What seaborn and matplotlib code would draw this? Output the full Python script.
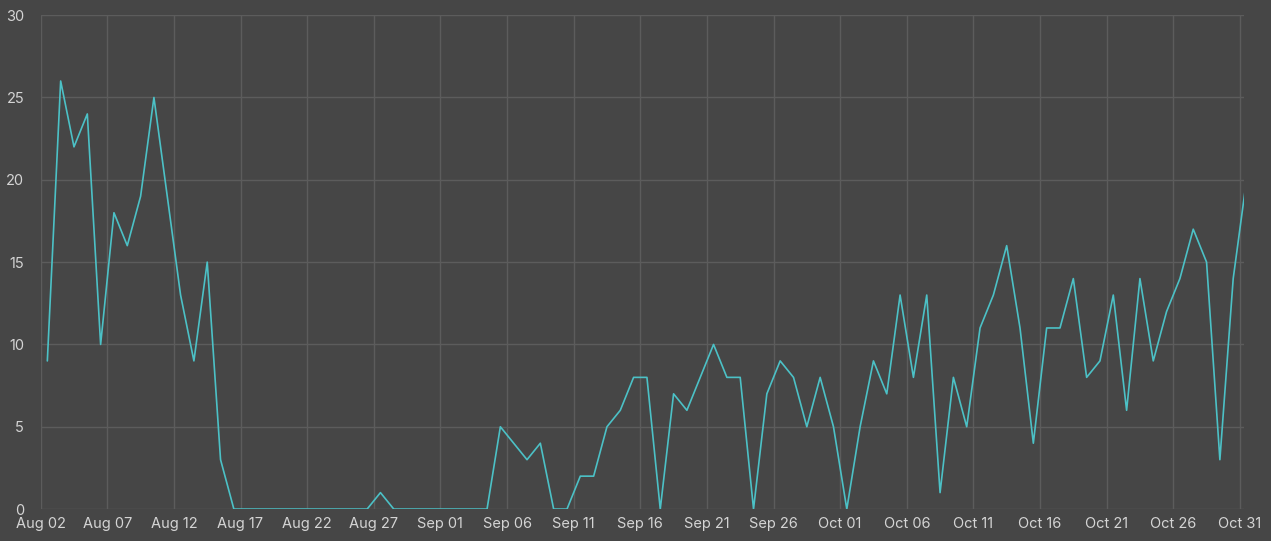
import pandas as pd
import numpy as np
import matplotlib
matplotlib.use("Agg")
import matplotlib.pyplot as plt
import matplotlib.dates as mdates
import seaborn as sns

# daily counts, Aug 02 -> Oct 31
start_date = "2023-08-02"
end_date = "2023-10-31"
counts = [
    9, 26, 22, 24, 10, 18, 16, 19, 25, 19,      # Aug 02 - Aug 11
    13, 9, 15, 3, 0, 0, 0, 0, 0, 0,              # Aug 12 - Aug 21
    0, 0, 0, 0, 0, 1, 0, 0, 0, 0,                # Aug 22 - Aug 31
    0, 0, 0, 0, 5, 4, 3, 4, 0, 0,                # Sep 01 - Sep 10
    2, 2, 5, 6, 8, 8, 0, 7, 6, 8,                # Sep 11 - Sep 20
    10, 8, 8, 0, 7, 9, 8, 5, 8, 5,               # Sep 21 - Sep 30
    0, 5, 9, 7, 13, 8, 13, 1, 8, 5,              # Oct 01 - Oct 10
    11, 13, 16, 11, 4, 11, 11, 14, 8, 9,         # Oct 11 - Oct 20
    13, 6, 14, 9, 12, 14, 17, 15, 3, 14,         # Oct 21 - Oct 30
    20,                                           # Oct 31
]
tick_step_days = 5

dates = pd.date_range(start_date, periods=len(counts), freq="D") + pd.Timedelta(hours=12)
df = pd.DataFrame({"date": dates, "count": counts})

bg = "#464646"
grid_c = "#5c5c5c"
text_c = "#d4d4d4"
line_c = "#4cc1c6"

sns.set_theme(style="darkgrid")
plt.rcParams["font.family"] = ["Inter", "DejaVu Sans"]

fig, ax = plt.subplots(figsize=(12.71, 5.41), dpi=100)
fig.patch.set_facecolor(bg)
ax.set_facecolor(bg)
fig.subplots_adjust(left=0.032, right=0.979, top=0.972, bottom=0.059)

sns.lineplot(data=df, x="date", y="count", ax=ax, color=line_c, linewidth=1.2)

ticks = pd.date_range(start_date, end_date, freq=f"{tick_step_days}D")
ax.set_xticks(ticks)
ax.xaxis.set_major_formatter(mdates.DateFormatter("%b %d"))
ax.set_yticks(np.arange(0, 31, 5))
x0 = pd.Timestamp(start_date)
x1 = pd.Timestamp(end_date) + pd.Timedelta(hours=8)
ax.set_xlim(x0, x1)
ax.set_ylim(0, 30)

ax.grid(True, color=grid_c, linewidth=1.0)
for s in ax.spines.values():
    s.set_visible(False)
ax.tick_params(axis="both", colors=text_c, labelsize=10.5, length=0)
ax.tick_params(axis="x", pad=6)
ax.tick_params(axis="y", pad=12)
ax.set_xlabel("")
ax.set_ylabel("")

fig.savefig("out.png", dpi=100, facecolor=bg)
